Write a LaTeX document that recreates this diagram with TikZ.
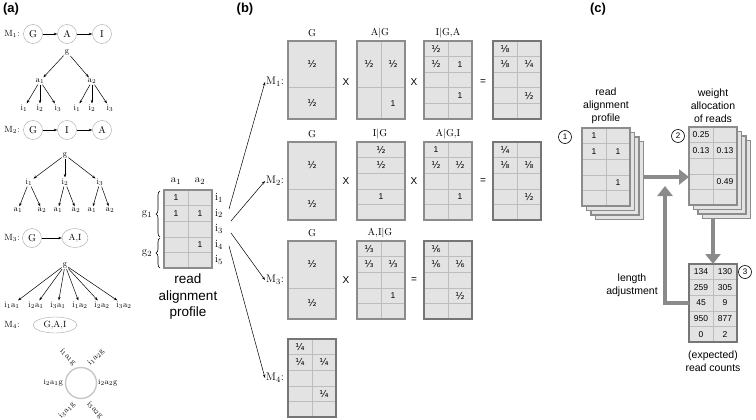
\documentclass[tikz,border=0pt]{standalone}
\usepackage{fontspec}
\setsansfont{Liberation Sans}
\newfontfamily\fracfont{DejaVu Sans}
\usepackage{tikz}
\usetikzlibrary{shapes.geometric}
\usetikzlibrary{decorations.pathreplacing}
\usetikzlibrary{positioning}
\usetikzlibrary{calc}
\usetikzlibrary{arrows.meta}

\definecolor{cellGray}{HTML}{E3E3E3}
\definecolor{gridGray}{HTML}{BDBDBD}
\definecolor{frameGray}{HTML}{8C8C8C}
\definecolor{resultGray}{HTML}{767676}
\definecolor{flowGray}{HTML}{8A8A8A}

\newcommand{\fr}[1]{{\fracfont\fontsize{9.5}{11}\selectfont #1}}

% probability table: name, north west corner, frame style, row lines, column lines, cells
\newcommand{\probTable}[6]{%
    \node [tableBox, anchor = north west] (#1) at (#2) {};
    \foreach \h in {#4}
        \draw [gridLine] ($(#1.north west) + (0, \h*15.6)$) -- ($(#1.north east) + (0, \h*15.6)$);
    \foreach \v in {#5}
        \draw [gridLine] ($(#1.north west) + (\v*24, 0)$) -- ($(#1.south west) + (\v*24, 0)$);
    \draw [#3] (#1.north west) rectangle (#1.south east);
    \foreach \r/\c/\t in {#6}
        \node [cellText] at ($(#1.north west) + (\c*24 - 12, \r*15.6 - 7.8)$) {\t};
}

\begin{document}
\begin{tikzpicture}[x = 1pt, y = -1pt,
                    panelLabel/.style = {font = \sffamily\bfseries\fontsize{13}{15}\selectfont},
                    modelLabel/.style = {inner sep = 1pt, font = \fontsize{9}{11}\selectfont},
                    bigLabel/.style   = {inner sep = 1pt, font = \fontsize{11}{13}\selectfont},
                    headLabel/.style  = {inner sep = 1pt, font = \fontsize{10}{12}\selectfont},
                    varNode/.style    = {draw = gray!70, circle, minimum size = 19pt, inner sep = 0pt, font = \fontsize{10}{12}\selectfont},
                    jointNode/.style  = {draw = gray!70, ellipse, minimum width = 26pt, minimum height = 19pt, inner sep = 0pt, font = \fontsize{9}{11}\selectfont},
                    treeNode/.style   = {inner sep = 1pt, font = \fontsize{8.5}{10}\selectfont},
                    ringLabel/.style  = {inner sep = 0pt, font = \fontsize{8}{10}\selectfont},
                    thinArrow/.style  = {line width = .5pt, -{Stealth[length = 3.5pt, width = 2.5pt]}},
                    tableBox/.style   = {rectangle, fill = cellGray, minimum width = 48pt, minimum height = 78pt, inner sep = 0pt, outer sep = 0pt},
                    gridLine/.style   = {draw = gridGray, line width = .6pt},
                    plainFrame/.style = {draw = frameGray, line width = 1.6pt},
                    resultFrame/.style= {draw = resultGray, line width = 2.4pt},
                    cellText/.style   = {inner sep = 0pt, font = \sffamily\fontsize{8.5}{10}\selectfont},
                    opSign/.style     = {font = \sffamily\fontsize{10}{12}\selectfont},
                    sansText/.style   = {align = center, font = \sffamily\fontsize{10.5}{13}\selectfont},
                    numCircle/.style  = {draw, circle, line width = .6pt, minimum size = 13pt, inner sep = 0pt, font = \sffamily\fontsize{8}{9}\selectfont},
                    flowArrow/.style  = {draw = flowGray, line width = 4.5pt, -{Triangle[length = 10pt, width = 15pt]}}]
    \useasboundingbox (0,0) rectangle (756,420);

    %% (a) graphical models
    \node [panelLabel] (labA) at (11,9) {(a)};

    % M1
    \node [modelLabel] (m1Lab) at (12,34) {M$_1$:};
    \node [varNode]    (m1G)   at (33,34)  {G};
    \node [varNode]    (m1A)   at (67,34)  {A};
    \node [varNode]    (m1I)   at (102,34) {I};
    \draw [thinArrow] (m1G) -- (m1A);
    \draw [thinArrow] (m1A) -- (m1I);
    \node [treeNode] (m1g)    at (67,52)   {g};
    \node [treeNode] (m1a1)   at (40,81)   {a$_1$};
    \node [treeNode] (m1a2)   at (92,81)   {a$_2$};
    \node [treeNode] (m1a1i1) at (24,108)  {i$_1$};
    \node [treeNode] (m1a1i2) at (40,108)  {i$_2$};
    \node [treeNode] (m1a1i3) at (58,108)  {i$_3$};
    \node [treeNode] (m1a2i1) at (77,108)  {i$_1$};
    \node [treeNode] (m1a2i2) at (92,108)  {i$_2$};
    \node [treeNode] (m1a2i3) at (110,108) {i$_3$};
    \foreach \a in {a1, a2} {
        \draw [thinArrow] (m1g) -- (m1\a);
        \foreach \i in {i1, i2, i3}
            \draw [thinArrow] (m1\a) -- (m1\a\i);
    }

    % M2
    \node [modelLabel] (m2Lab) at (12,130) {M$_2$:};
    \node [varNode]    (m2G)   at (33,130)  {G};
    \node [varNode]    (m2I)   at (67,130)  {I};
    \node [varNode]    (m2A)   at (102,130) {A};
    \draw [thinArrow] (m2G) -- (m2I);
    \draw [thinArrow] (m2I) -- (m2A);
    \node [treeNode] (m2g)    at (65,155)  {g};
    \node [treeNode] (m2i1)   at (29,182)  {i$_1$};
    \node [treeNode] (m2i2)   at (65,182)  {i$_2$};
    \node [treeNode] (m2i3)   at (100,182) {i$_3$};
    \node [treeNode] (m2i1a1) at (18,210)  {a$_1$};
    \node [treeNode] (m2i1a2) at (42,210)  {a$_2$};
    \node [treeNode] (m2i2a1) at (58,210)  {a$_1$};
    \node [treeNode] (m2i2a2) at (76,210)  {a$_2$};
    \node [treeNode] (m2i3a1) at (92,210)  {a$_1$};
    \node [treeNode] (m2i3a2) at (110,210) {a$_2$};
    \foreach \i in {i1, i2, i3} {
        \draw [thinArrow] (m2g) -- (m2\i);
        \foreach \a in {a1, a2}
            \draw [thinArrow] (m2\i) -- (m2\i\a);
    }

    % M3
    \node [modelLabel] (m3Lab) at (12,238) {M$_3$:};
    \node [varNode]    (m3G)   at (32,238) {G};
    \node [jointNode]  (m3AI)  at (75,238) {A,I};
    \draw [thinArrow] (m3G) -- (m3AI);
    \node [treeNode] (m3g)    at (65,265)  {g};
    \node [treeNode] (m3i1a1) at (12,305)  {i$_1$a$_1$};
    \node [treeNode] (m3i2a1) at (36,305)  {i$_2$a$_1$};
    \node [treeNode] (m3i3a1) at (58,305)  {i$_3$a$_1$};
    \node [treeNode] (m3i1a2) at (80,305)  {i$_1$a$_2$};
    \node [treeNode] (m3i2a2) at (102,305) {i$_2$a$_2$};
    \node [treeNode] (m3i3a2) at (124,305) {i$_3$a$_2$};
    \foreach \l in {i1a1, i2a1, i3a1, i1a2, i2a2, i3a2}
        \draw [thinArrow] (m3g) -- (m3\l);

    % M4
    \node [modelLabel] (m4Lab) at (12,325) {M$_4$:};
    \node [jointNode, minimum width = 44pt, minimum height = 16pt] (m4GAI) at (55,325) {G,A,I};
    \draw [draw = gray!45, line width = 1.4pt] (81,383) circle (15.5);
    \coordinate (m4Ring) at (81,383);
    \node [ringLabel, rotate = -45] (m4i1a1) at (68,357)  {i$_1$a$_1$g};
    \node [ringLabel, rotate = 45]  (m4i1a2) at (96,357)  {i$_1$a$_2$g};
    \node [ringLabel, left = 18pt of m4Ring]  (m4i2a1) {i$_2$a$_1$g};
    \node [ringLabel, right = 17pt of m4Ring] (m4i2a2) {i$_2$a$_2$g};
    \node [ringLabel, rotate = 45]  (m4i3a1) at (67,410)  {i$_3$a$_1$g};
    \node [ringLabel, rotate = -45] (m4i3a2) at (95,410)  {i$_3$a$_2$g};

    %% (b) read alignment profile and model products
    \node [panelLabel] (labB) at (245,9) {(b)};

    \probTable{readProf}{164,190}{plainFrame}{1,2,3,4}{1}{1/1/1, 2/1/1, 2/2/1, 4/2/1}
    \node [bigLabel] (profA1) at (176,181) {a$_1$};
    \node [bigLabel] (profA2) at (200,181) {a$_2$};
    \foreach \k in {1,...,5}
        \node [bigLabel] (profI\k) at (219, 190 + 15.6*\k - 7.8) {i$_\k$};
    \draw [decorate, decoration = {brace, amplitude = 4pt}, line width = .6pt] (160,237) -- (160,191);
    \draw [decorate, decoration = {brace, amplitude = 4pt}, line width = .6pt] (160,268) -- (160,238);
    \node [bigLabel] (profG1) at (147,214) {g$_1$};
    \node [bigLabel] (profG2) at (147,253) {g$_2$};
    \node [sansText, font = \sffamily\fontsize{13.5}{16.5}\selectfont] (profText) at (188,297) {read\\alignment\\profile};

    \coordinate (profOut1) at (229,209);
    \coordinate (profOut2) at (231,221);
    \coordinate (profOut3) at (231,233);
    \coordinate (profOut4) at (229,246);

    \node [bigLabel] (b1Lab) at (275,82)  {M$_1$:};
    \node [bigLabel] (b2Lab) at (275,181) {M$_2$:};
    \node [bigLabel] (b3Lab) at (275,280) {M$_3$:};
    \node [bigLabel] (b4Lab) at (275,378) {M$_4$:};
    \foreach \k in {1,...,4}
        \draw [thinArrow] (profOut\k) -- (b\k Lab.west);

    % M1 row
    \probTable{b1G}{288,41}{plainFrame}{3}{0}{2/1.5/\fr{½}, 4.5/1.5/\fr{½}}
    \probTable{b1A}{357,41}{plainFrame}{3}{1}{2/1/\fr{½}, 2/2/\fr{½}, 4.5/2/1}
    \probTable{b1I}{424,41}{plainFrame}{1,2,3,4}{1}{1/1/\fr{½}, 2/1/\fr{½}, 2/2/1, 4/2/1}
    \probTable{b1R}{493,41}{resultFrame}{1,2,3,4}{1}{1/1/\fr{⅛}, 2/1/\fr{⅛}, 2/2/\fr{¼}, 4/2/\fr{½}}
    \node [headLabel] (b1Gh) at (312,33) {G};
    \node [headLabel] (b1Ah) at (380,33) {A$|$G};
    \node [headLabel] (b1Ih) at (448,33) {I$|$G,A};
    \node [opSign] (b1x1) at (346,82) {X};
    \node [opSign] (b1x2) at (414,82) {X};
    \node [opSign] (b1eq) at (483,82) {=};

    % M2 row
    \probTable{b2G}{288,142}{plainFrame}{3}{0}{2/1.5/\fr{½}, 4.5/1.5/\fr{½}}
    \probTable{b2I}{357,142}{plainFrame}{1,2,3,4}{0}{1/1.5/\fr{½}, 2/1.5/\fr{½}, 4/1.5/1}
    \probTable{b2A}{424,142}{plainFrame}{1,2,3,4}{1}{1/1/1, 2/1/\fr{½}, 2/2/\fr{½}, 4/2/1}
    \probTable{b2R}{493,142}{resultFrame}{1,2,3,4}{1}{1/1/\fr{¼}, 2/1/\fr{⅛}, 2/2/\fr{⅛}, 4/2/\fr{½}}
    \node [headLabel] (b2Gh) at (312,134) {G};
    \node [headLabel] (b2Ih) at (380,134) {I$|$G};
    \node [headLabel] (b2Ah) at (448,134) {A$|$G,I};
    \node [opSign] (b2x1) at (346,181) {X};
    \node [opSign] (b2x2) at (414,181) {X};
    \node [opSign] (b2eq) at (483,181) {=};

    % M3 row
    \probTable{b3G}{288,241}{plainFrame}{3}{0}{2/1.5/\fr{½}, 4.5/1.5/\fr{½}}
    \probTable{b3AI}{357,241}{plainFrame}{1,2,3,4}{1}{1/1/\fr{⅓}, 2/1/\fr{⅓}, 2/2/\fr{⅓}, 4/2/1}
    \probTable{b3R}{424,241}{resultFrame}{1,2,3,4}{1}{1/1/\fr{⅙}, 2/1/\fr{⅙}, 2/2/\fr{⅙}, 4/2/\fr{½}}
    \node [headLabel] (b3Gh) at (312,233) {G};
    \node [headLabel] (b3AIh) at (380,233) {A,I$|$G};
    \node [opSign] (b3x1) at (346,280) {X};
    \node [opSign] (b3eq) at (414,280) {=};

    % M4 row
    \probTable{b4R}{288,339}{resultFrame}{1,2,3,4}{1}{1/1/\fr{¼}, 2/1/\fr{¼}, 2/2/\fr{¼}, 4/2/\fr{¼}}

    %% (c) iteration
    \node [panelLabel] (labC) at (598,9) {(c)};

    \foreach \k in {3,2,1}
        \node [tableBox, plainFrame, anchor = north west] (cRead\k) at (582 + 4.5*\k, 128 + 4.5*\k) {};
    \probTable{cRead}{582,128}{plainFrame}{1,2,3,4}{1}{1/1/1, 2/1/1, 2/2/1, 4/2/1}
    \node [sansText] (cReadText) at (606,106) {read\\alignment\\profile};
    \node [numCircle] (cNum1) at (565,137) {1};

    \foreach \k in {3,2,1}
        \node [tableBox, plainFrame, anchor = north west] (cWeight\k) at (689 + 4.5*\k, 127 + 4.5*\k) {};
    \probTable{cWeight}{689,127}{plainFrame}{1,2,3,4}{1}{1/1/0.25, 2/1/0.13, 2/2/0.13, 4/2/0.49}
    \node [sansText] (cWeightText) at (713,106) {weight\\allocation\\of reads};
    \node [numCircle] (cNum2) at (678,136) {2};

    \probTable{cCount}{689,264}{resultFrame}{1,2,3,4}{1}{1/1/134, 1/2/130, 2/1/259, 2/2/305, 3/1/45, 3/2/9, 4/1/950, 4/2/877, 5/1/0, 5/2/2}
    \node [sansText] (cCountText) at (713,361) {(expected)\\read counts};
    \node [numCircle] (cNum3) at (745,272) {3};

    \coordinate (flowStart) at (644,177);
    \coordinate (lenTip) at (665,186);
    \draw [flowArrow] (flowStart) -- (flowStart -| cWeight.west);
    \draw [flowArrow] (cWeight.south |- cWeight3.south) -- (cCount.north);
    \draw [flowArrow] (cCount.west) -| (lenTip);
    \node [sansText] (lenText) at (632,285) {length\\adjustment};
\end{tikzpicture}
\end{document}
